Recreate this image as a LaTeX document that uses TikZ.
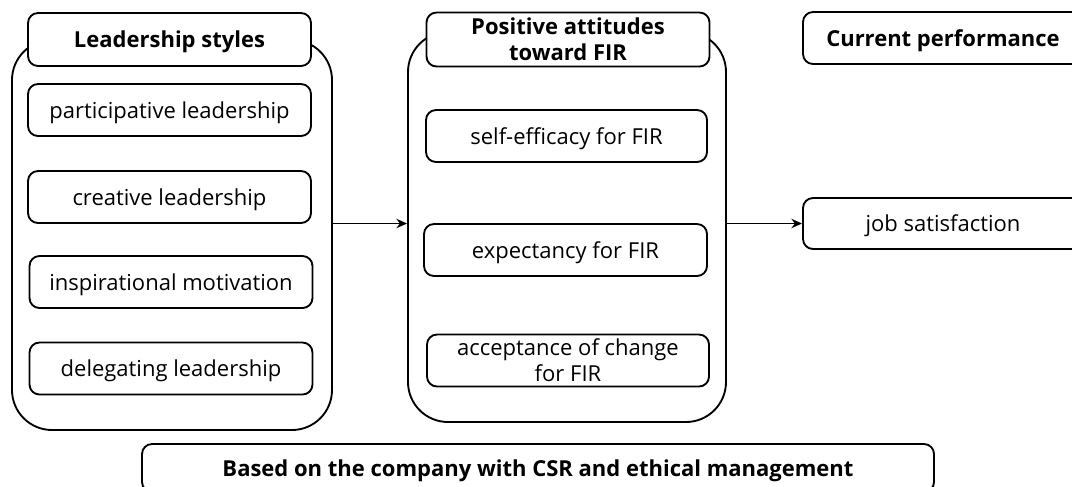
\documentclass[tikz,border=0pt]{standalone}
\usepackage{fontspec}
\setmainfont{Open Sans}
\usetikzlibrary{arrows.meta}
\begin{document}
\begin{tikzpicture}[x=0.75pt,y=-0.75pt,
  every node/.style={font=\fontsize{16.5}{17.5}\selectfont, text=black, inner sep=0pt, align=center, text depth=0pt},
  container/.style={draw, line width=1.4pt, rounded corners=30pt, minimum width=240pt, minimum height=292.5pt},
  hdr/.style={draw, line width=1.4pt, rounded corners=7.5pt, fill=white, minimum width=212.25pt, minimum height=39.75pt, font=\fontsize{16.5}{17.5}\selectfont\bfseries},
  item/.style={draw, line width=1.4pt, rounded corners=7.5pt, fill=white, minimum width=212.25pt, minimum height=39pt},
  arr/.style={line width=1.4pt, -{Stealth[length=8pt,width=7pt]}}
]
\useasboundingbox (0,0) rectangle (1072,486);
\begin{scope}
\clip (0,0) rectangle (1072,486);
% left group
\node[container] (lc) at (172,235) {};
\node[hdr] (lh) at (169.5,39.5) {Leadership styles};
\node[item] (l1) at (169.5,110) {participative leadership};
\node[item] (l2) at (169.5,197) {creative leadership};
\node[item] (l3) at (171,282) {inspirational motivation};
\node[item] (l4) at (171,368.5) {delegating leadership};
% middle group
\node[container, minimum width=238.5pt] (mc) at (567,227) {};
\node[hdr, minimum height=40.5pt] (mh) at (568,39.5) {Positive attitudes\\[2pt]toward FIR};
\node[item, minimum width=210.75pt] (m1) at (566.5,136) {self-efficacy for FIR};
\node[item] (m2) at (565.5,250) {expectancy for FIR};
\node[item, minimum width=211.5pt] (m3) at (568,360.5) {acceptance of change\\[2pt]for FIR};
% right group
\node[hdr, minimum width=210pt, minimum height=39pt] (rh) at (943,38) {Current performance};
\node[item, minimum width=210pt, minimum height=38.25pt] (js) at (943,223.5) {job satisfaction};
% bottom
\node[item, minimum width=594pt, minimum height=36pt, font=\fontsize{16.5}{17.5}\selectfont\bfseries] (base) at (538,468) {Based on the company with CSR and ethical management};
\end{scope}
\draw[arr] (lc.east |- js.west) -- (mc.west |- js.west);
\draw[arr] (mc.east |- js.west) -- (js.west);
\end{tikzpicture}
\end{document}
